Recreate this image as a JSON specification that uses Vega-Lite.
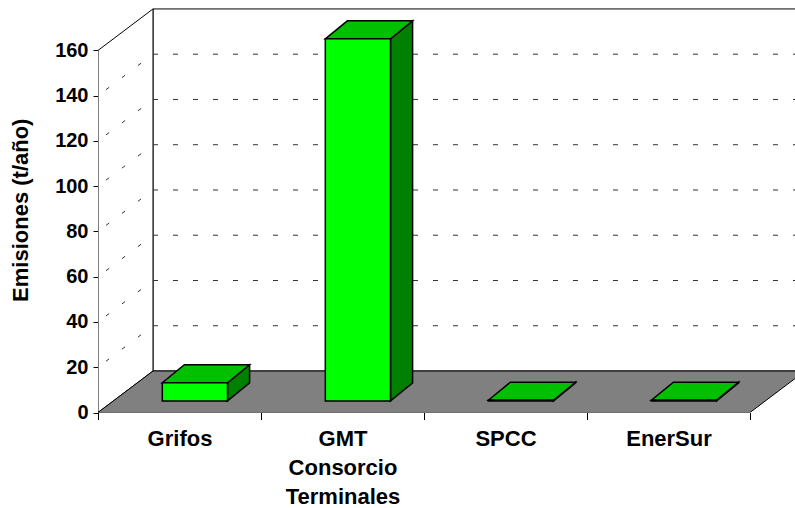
{
  "$schema": "https://vega.github.io/schema/vega-lite/v6.json",
  "autosize": "none",
  "width": 697,
  "height": 405.5,
  "padding": {"left": 98, "top": 7, "right": 0, "bottom": 95.5},
  "background": "white",
  "config": {
    "view": {"stroke": null},
    "font": "Liberation Sans",
    "axis": {"labelFont": "Liberation Sans", "labelFontWeight": "bold", "labelColor": "black", "tickColor": "black", "tickWidth": 1,
      "domain": false, "grid": false, "titleFont": "Liberation Sans", "titleFontWeight": "bold", "titleColor": "black"},
    "axisY": {"labelFontSize": 20, "tickSize": 5, "labelPadding": 5, "titleFontSize": 22, "titlePadding": 22},
    "axisX": {"labelFontSize": 22, "tickSize": 7, "labelPadding": 8.5, "labelLineHeight": 29, "labelOverlap": false, "labelBound": false, "labelFlush": false}
  },
  "datasets": {
    "bars": [
      {"cat": "Grifos", "v": 8},
      {"cat": "GMT Consorcio Terminales", "v": 160},
      {"cat": "SPCC", "v": 0.3},
      {"cat": "EnerSur", "v": 0.3}
    ],
    "ticks": [{"t": 20}, {"t": 40}, {"t": 60}, {"t": 80}, {"t": 100}, {"t": 120}, {"t": 140}],
    "frame": [{"part": "frame"}]
  },
  "layer": [
    {
      "data": {"name": "frame"},
      "mark": {"type": "rect", "fill": "white", "stroke": "black", "strokeWidth": 1, "clip": true},
      "encoding": {
        "x": {"datum": 0.3374, "type": "quantitative", "title": null, "scale": {"domain": [0, 4.276], "nice": false, "zero": false},
          "axis": {"values": [0, 0.5, 1, 1.5, 2, 2.5, 3, 3.5, 4], "title": null,
            "tickOpacity": {"condition": {"test": "datum.value % 1 == 0", "value": 1}, "value": 0},
            "labelExpr": "datum.value == 0.5 ? 'Grifos' : datum.value == 1.5 ? ['GMT','Consorcio','Terminales'] : datum.value == 2.5 ? 'SPCC' : datum.value == 3.5 ? 'EnerSur' : ''"}},
        "x2": {"datum": 4.6},
        "y": {"datum": 18.34, "type": "quantitative", "title": "Emisiones (t/año)", "scale": {"domain": [0, 179.2], "nice": false, "zero": false},
          "axis": {"values": [0, 20, 40, 60, 80, 100, 120, 140, 160], "title": "Emisiones (t/año)"}},
        "y2": {"datum": 178.34}
      }
    },
    {
      "data": {"name": "frame"},
      "transform": [
        {"calculate": "[0, 1]", "as": "k"},
        {"flatten": ["k"]},
        {"calculate": "datum.k * 0.3374", "as": "px"},
        {"calculate": "datum.k * 18.34", "as": "plo"},
        {"calculate": "160 + datum.k * 18.34", "as": "phi"}
      ],
      "mark": {"type": "area", "fill": "white", "stroke": "black", "strokeWidth": 1, "clip": true},
      "encoding": {
        "x": {"field": "px", "type": "quantitative", "title": null},
        "y": {"field": "phi", "type": "quantitative", "title": "Emisiones (t/año)", "stack": null},
        "y2": {"field": "plo"}
      }
    },
    {
      "data": {"name": "ticks"},
      "transform": [{"calculate": "datum.t + 18.34", "as": "tb"}],
      "mark": {"type": "rule", "color": "#333333", "strokeWidth": 1, "strokeDash": [5, 15], "clip": true},
      "encoding": {
        "x": {"datum": 0.3374, "type": "quantitative", "title": null},
        "x2": {"datum": 4.6},
        "y": {"field": "tb", "type": "quantitative", "title": "Emisiones (t/año)"},
        "y2": {"field": "tb"}
      }
    },
    {
      "data": {"name": "ticks"},
      "transform": [{"calculate": "datum.t + 18.34", "as": "tb"}],
      "mark": {"type": "rule", "color": "#333333", "strokeWidth": 1, "strokeDash": [4, 16], "strokeDashOffset": 10, "clip": true},
      "encoding": {
        "x": {"datum": 0, "type": "quantitative", "title": null},
        "x2": {"datum": 0.3374},
        "y": {"field": "t", "type": "quantitative", "title": "Emisiones (t/año)"},
        "y2": {"field": "tb"}
      }
    },
    {
      "data": {"name": "frame"},
      "transform": [
        {"calculate": "[0, 1, 2, 3]", "as": "k"},
        {"flatten": ["k"]},
        {"calculate": "datum.k == 0 ? 0 : datum.k == 1 ? 0.3374 : datum.k == 2 ? 4 : 4.3374", "as": "px"},
        {"calculate": "datum.k == 3 ? 18.34 : 0", "as": "plo"},
        {"calculate": "datum.k == 0 ? 0 : 18.34", "as": "phi"}
      ],
      "mark": {"type": "area", "fill": "#808080", "stroke": "black", "strokeWidth": 1, "clip": true},
      "encoding": {
        "x": {"field": "px", "type": "quantitative", "title": null},
        "y": {"field": "phi", "type": "quantitative", "title": "Emisiones (t/año)", "stack": null},
        "y2": {"field": "plo"}
      }
    },
    {
      "data": {"name": "bars"},
      "transform": [
        {"window": [{"op": "row_number", "as": "rn"}]},
        {"calculate": "datum.rn - 1", "as": "i"},
        {"calculate": "[0, 1]", "as": "k"},
        {"flatten": ["k"]},
        {"calculate": "datum.i + 0.7 + (datum.k == 0 ? 0.0945 : 0.23)", "as": "px"},
        {"calculate": "datum.k == 0 ? 5.13 : 13.1", "as": "plo"},
        {"calculate": "datum.plo + datum.v", "as": "phi"}
      ],
      "mark": {"type": "area", "fill": "#008000", "stroke": "black", "strokeWidth": 1.5, "strokeJoin": "miter"},
      "encoding": {
        "x": {"field": "px", "type": "quantitative", "title": null},
        "y": {"field": "phi", "type": "quantitative", "title": "Emisiones (t/año)", "stack": null},
        "y2": {"field": "plo"},
        "detail": {"field": "cat"}
      }
    },
    {
      "data": {"name": "bars"},
      "transform": [
        {"window": [{"op": "row_number", "as": "rn"}]},
        {"calculate": "datum.rn - 1", "as": "i"},
        {"calculate": "[0, 1, 2, 3]", "as": "k"},
        {"flatten": ["k"]},
        {"calculate": "datum.i + (datum.k == 0 ? 0.3945 : datum.k == 1 ? 0.53 : datum.k == 2 ? 0.7945 : 0.93)", "as": "px"},
        {"calculate": "datum.v + (datum.k == 3 ? 13.1 : 5.13)", "as": "plo"},
        {"calculate": "datum.v + (datum.k == 0 ? 5.13 : 13.1)", "as": "phi"}
      ],
      "mark": {"type": "area", "fill": "#00C000", "stroke": "black", "strokeWidth": 1.5, "strokeJoin": "miter"},
      "encoding": {
        "x": {"field": "px", "type": "quantitative", "title": null},
        "y": {"field": "phi", "type": "quantitative", "title": "Emisiones (t/año)", "stack": null},
        "y2": {"field": "plo"},
        "detail": {"field": "cat"}
      }
    },
    {
      "data": {"name": "bars"},
      "transform": [
        {"window": [{"op": "row_number", "as": "rn"}]},
        {"calculate": "datum.rn - 1", "as": "i"},
        {"calculate": "datum.i + 0.3945", "as": "fx1"},
        {"calculate": "datum.i + 0.7945", "as": "fx2"},
        {"calculate": "5.13", "as": "fy1"},
        {"calculate": "datum.v + 5.13", "as": "fy2"}
      ],
      "mark": {"type": "rect", "fill": "#00FF00", "stroke": "black", "strokeWidth": 1.5},
      "encoding": {
        "x": {"field": "fx1", "type": "quantitative", "title": null},
        "x2": {"field": "fx2"},
        "y": {"field": "fy1", "type": "quantitative", "title": "Emisiones (t/año)"},
        "y2": {"field": "fy2"}
      }
    }
  ]
}
